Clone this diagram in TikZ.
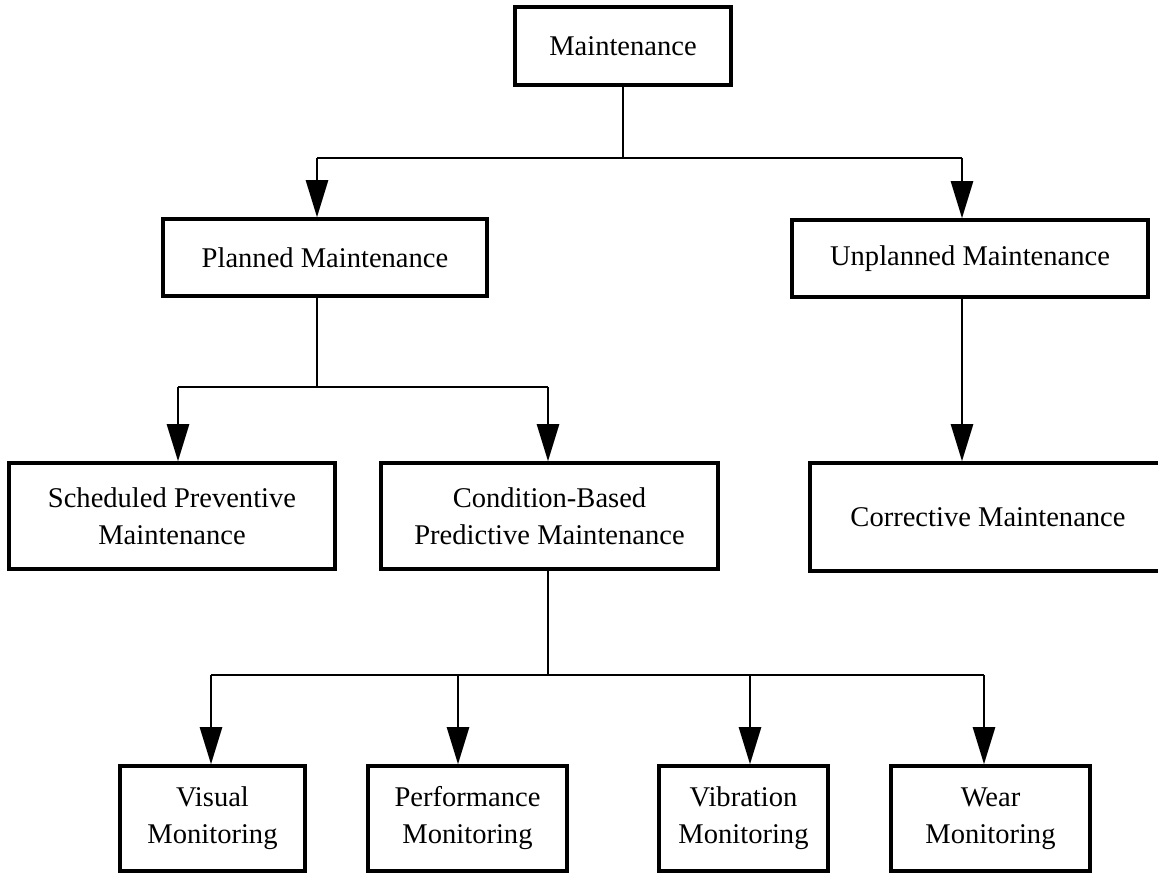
\documentclass[tikz,border=0pt]{standalone}
\usepackage{fontspec}
\setmainfont{Liberation Serif}
\usepackage{tikz}
\usetikzlibrary{arrows.meta,positioning,calc}

\begin{document}
\begin{tikzpicture}[x=0.025cm,y=-0.025cm,
  box/.style={rectangle, draw, line width=2.4pt, align=center, inner sep=0pt,
    font=\fontsize{20.3}{26.3}\selectfont},
  link/.style={line width=2pt},
  arr/.style={line width=2pt, -{Triangle[length=0.93cm,width=0.55cm]}}]
  \useasboundingbox (0,0) rectangle (1158,873);

  % top levels
  \node (maint) [box, minimum width=5.4cm, minimum height=1.95cm] at (623,46) {Maintenance};
  \node (plan) [box, minimum width=8.1cm, minimum height=1.925cm] at (325,257.5) {Planned Maintenance};
  \node (unplan) [box, minimum width=8.9cm, minimum height=1.925cm] at (970,258.5) {Unplanned Maintenance};

  \node (sched) [box, minimum width=8.15cm, minimum height=2.65cm] at (172,516) {Scheduled Preventive\\Maintenance};
  \node (cond) [box, minimum width=8.425cm, minimum height=2.65cm] at (549.5,516) {Condition-Based\\Predictive Maintenance};
  \node (corr) [box, minimum width=8.9cm, minimum height=2.7cm] at (988,517) {Corrective Maintenance};

  % monitoring
  \node (vis) [box, minimum width=4.625cm, minimum height=2.625cm] at (212.5,818.5) {Visual\\Monitoring};
  \node (perf) [box, minimum width=4.975cm, minimum height=2.625cm] at (467.5,818.5) {Performance\\Monitoring};
  \node (vib) [box, minimum width=4.225cm, minimum height=2.625cm] at (743.5,818.5) {Vibration\\Monitoring};
  \node (wear) [box, minimum width=4.975cm, minimum height=2.625cm] at (990.5,818.5) {Wear\\Monitoring};

  % branch points
  \coordinate (b1l) at (317,158);
  \coordinate (b1r) at (962,158);
  \coordinate (b2l) at (178,387);
  \coordinate (b2r) at (548,387);
  \coordinate (b3a) at (211,675);
  \coordinate (b3b) at (458,675);
  \coordinate (b3c) at (750,675);
  \coordinate (b3d) at (984,675);

  \draw[link] (maint.south) -- (maint.south |- b1l);
  \draw[link] (b1l) -- (b1r);
  \draw[arr] (b1l) -- (b1l |- plan.north);
  \draw[arr] (b1r) -- (b1r |- unplan.north);

  \draw[link] (plan.south -| b1l) -- (b1l |- b2l);
  \draw[link] (b2l) -- (b2r);
  \draw[arr] (b2l) -- (b2l |- sched.north);
  \draw[arr] (b2r) -- (b2r |- cond.north);

  \draw[arr] (unplan.south -| b1r) -- (b1r |- corr.north);

  \draw[link] (cond.south -| b2r) -- (b2r |- b3a);
  \draw[link] (b3a) -- (b3d);
  \draw[arr] (b3a) -- (b3a |- vis.north);
  \draw[arr] (b3b) -- (b3b |- perf.north);
  \draw[arr] (b3c) -- (b3c |- vib.north);
  \draw[arr] (b3d) -- (b3d |- wear.north);
\end{tikzpicture}
\end{document}
